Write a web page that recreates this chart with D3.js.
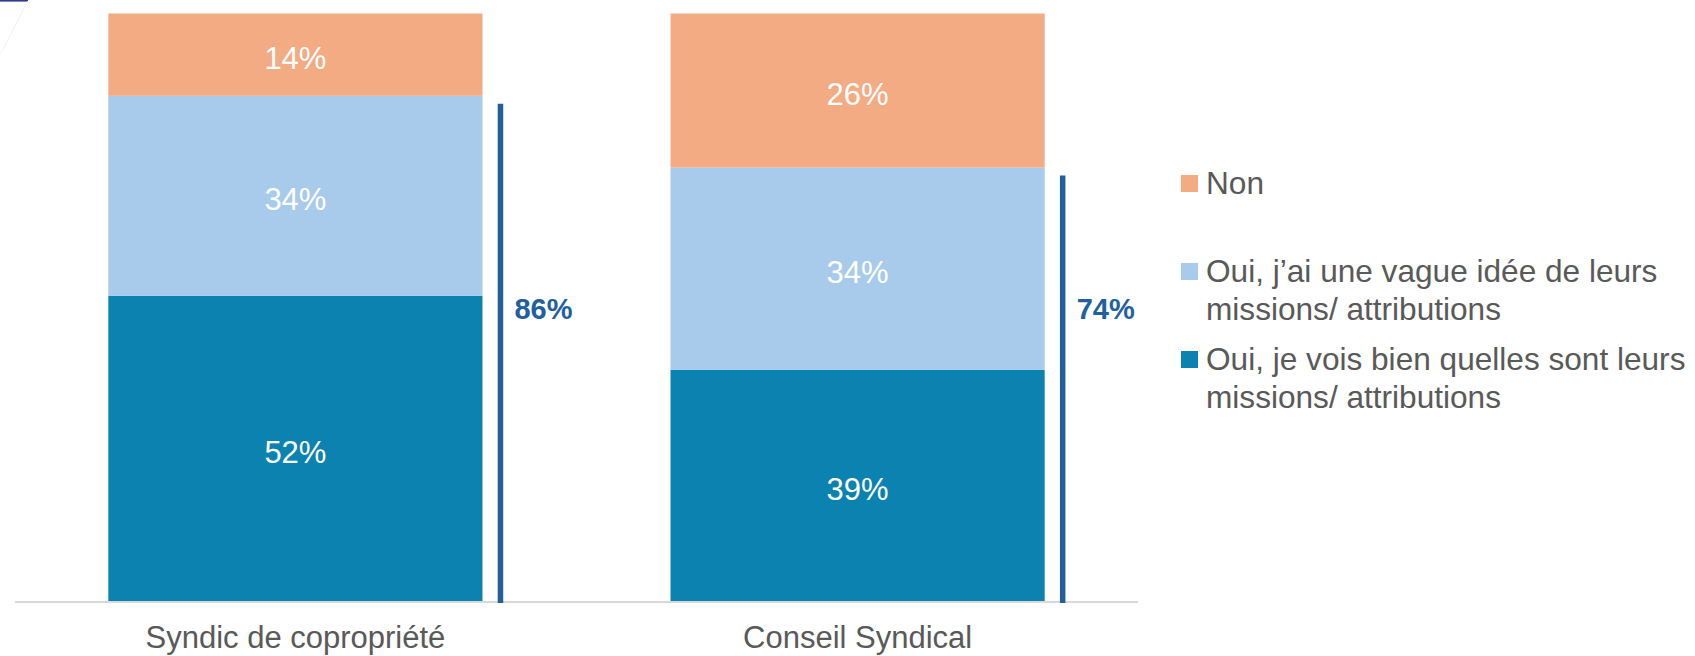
<!DOCTYPE html>
<html>
<head>
<meta charset="utf-8">
<script src="https://cdn.jsdelivr.net/npm/d3@7"></script>
<style>
  html, body { margin: 0; padding: 0; background: #ffffff; }
  svg { display: block; }
  text { font-family: "Liberation Sans", Arial, sans-serif; }
</style>
</head>
<body>
<script>
// ---- Data ----
const categories = ["Syndic de copropriété", "Conseil Syndical"];
const seriesNames = [
  "Oui, je vois bien quelles sont leurs missions/ attributions",
  "Oui, j’ai une vague idée de leurs missions/ attributions",
  "Non"
];
const valuesBien = [52, 39.4];
const valuesVague = [34, 34.4];
const valuesNon = [14, 26.2];
const totalsOui = [86, 74];
const legendLines = [
  ["Non"],
  ["Oui, j’ai une vague idée de leurs", "missions/ attributions"],
  ["Oui, je vois bien quelles sont leurs", "missions/ attributions"]
];

const colors = {
  "Oui, je vois bien quelles sont leurs missions/ attributions": "#0B82B0",
  "Oui, j’ai une vague idée de leurs missions/ attributions": "#A8CAEB",
  "Non": "#F3AB84"
};
const bracketColor = "#22609D";
const textColor = "#595959";

const W = 1695, H = 656;
const svg = d3.select("body").append("svg").attr("width", W).attr("height", H);

// top-left decoration
svg.append("line").attr("x1", 0).attr("x2", 28).attr("y1", 0.8).attr("y2", 0.8)
  .attr("stroke", "#2E3B8F").attr("stroke-width", 1.6);
svg.append("line").attr("x1", 28).attr("x2", 0).attr("y1", 1).attr("y2", 55)
  .attr("stroke", "#eef3fa").attr("stroke-width", 1);

const x = d3.scaleBand().domain(categories).range([15, 1138])
  .paddingInner(0.3345).paddingOuter(0.166);
const y = d3.scaleLinear().domain([0, 100]).range([601.5, 13.5]);

const table = categories.map((c, i) => ({
  cat: c,
  [seriesNames[0]]: valuesBien[i],
  [seriesNames[1]]: valuesVague[i],
  [seriesNames[2]]: valuesNon[i]
}));
const stacked = d3.stack().keys(seriesNames)(table);

// bars
const g = svg.append("g");
stacked.forEach(layer => {
  g.selectAll(null).data(layer).join("rect")
    .attr("x", d => x(d.data.cat))
    .attr("width", x.bandwidth())
    .attr("y", d => y(d[1]))
    .attr("height", d => y(d[0]) - y(d[1]))
    .attr("fill", colors[layer.key]);
  g.selectAll(null).data(layer).join("text")
    .attr("x", d => x(d.data.cat) + x.bandwidth() / 2)
    .attr("y", d => (y(d[0]) + y(d[1])) / 2 + 4)
    .attr("text-anchor", "middle")
    .attr("dominant-baseline", "central")
    .attr("fill", "#ffffff")
    .attr("font-size", 31)
    .text(d => Math.round(d[1] - d[0]) + "%");
});

// axis baseline
svg.append("line").attr("x1", 15).attr("x2", 1138).attr("y1", y(0) + 0.5).attr("y2", y(0) + 0.5)
  .attr("stroke", "#D9D9D9").attr("stroke-width", 2);

// category labels
const xAxis = d3.axisBottom(x).tickSize(0).tickPadding(0);
const ax = svg.append("g").attr("transform", `translate(0,${y(0)})`).call(xAxis);
ax.select(".domain").remove();
ax.selectAll("text")
  .attr("y", 46).attr("dy", 0)
  .attr("fill", textColor)
  .attr("font-size", 31)
  .attr("font-family", "'Liberation Sans', Arial, sans-serif");

// brackets
categories.forEach((c, i) => {
  const sumOui = valuesBien[i] + valuesVague[i];
  const bx = x(c) + x.bandwidth() + 18;
  svg.append("line")
    .attr("x1", bx).attr("x2", bx)
    .attr("y1", y(sumOui) + 8).attr("y2", y(0) + 1.5)
    .attr("stroke", bracketColor).attr("stroke-width", 5.5);
  svg.append("text")
    .attr("x", bx + 14)
    .attr("y", (y(0) + y(100)) / 2 + 1)
    .attr("dominant-baseline", "central")
    .attr("fill", bracketColor)
    .attr("font-size", 29)
    .attr("font-weight", "bold")
    .text(totalsOui[i] + "%");
});

// legend
const legendKeys = ["Non", seriesNames[1], seriesNames[0]];
const leg = svg.append("g");
legendKeys.forEach((k, i) => {
  const base = 194 + i * 88;
  leg.append("rect")
    .attr("x", 1181).attr("y", base - 19).attr("width", 17).attr("height", 17)
    .attr("fill", colors[k]);
  legendLines[i].forEach((line, j) => {
    leg.append("text")
      .attr("x", 1206).attr("y", base + j * 38)
      .attr("fill", textColor)
      .attr("font-size", 31.6)
      .text(line);
  });
});
</script>
</body>
</html>
